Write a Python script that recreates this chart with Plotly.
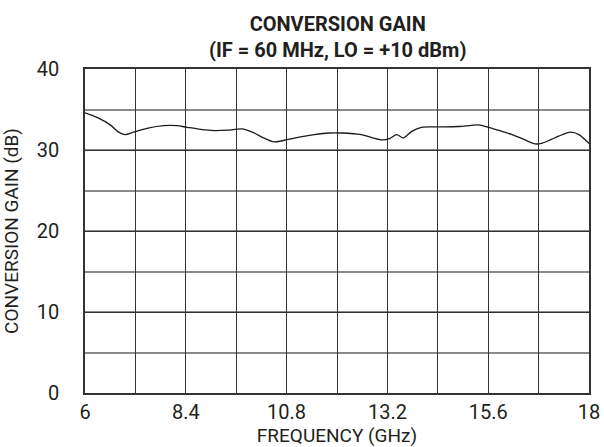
import plotly.graph_objects as go

freq_ghz = [6.0, 6.3, 6.6, 6.8, 6.95, 7.16, 7.5, 7.87, 8.19, 8.43, 8.75, 9.07, 9.4, 9.75,
            10.03, 10.25, 10.5, 10.83, 11.1, 11.46, 11.8, 12.1, 12.58, 12.85, 13.06, 13.25,
            13.42, 13.58, 13.78, 14.01, 14.41, 14.89, 15.2, 15.37, 15.61, 15.9, 16.17, 16.45,
            16.72, 16.89, 17.1, 17.28, 17.56, 17.76, 18.0]
gain_db = [34.6, 34.0, 33.1, 32.2, 31.9, 32.2, 32.7, 33.0, 33.0, 32.8, 32.55, 32.4, 32.45, 32.6,
           32.1, 31.5, 31.0, 31.3, 31.6, 31.9, 32.1, 32.1, 31.9, 31.5, 31.25, 31.4,
           31.9, 31.5, 32.3, 32.8, 32.85, 32.9, 33.05, 33.1, 32.8, 32.35, 31.9, 31.3,
           30.75, 30.85, 31.3, 31.7, 32.2, 31.9, 30.8]

x_grid = [6.0, 7.2, 8.4, 9.6, 10.8, 12.0, 13.2, 14.4, 15.6, 16.8, 18.0]
x_labels = ["6", "", "8.4", "", "10.8", "", "13.2", "", "15.6", "", "18"]
y_major = [0, 10, 20, 30, 40]
y_labels = ["0", "10", "20", "30", "40"]

FONT = "Roboto, Liberation Sans, sans-serif"

fig = go.Figure()
fig.add_trace(go.Scatter(
    x=freq_ghz, y=gain_db, mode="lines",
    line=dict(color="#1a1a1a", width=1.3, shape="spline", smoothing=0.8),
    showlegend=False, hoverinfo="skip",
))

fig.update_layout(
    width=604, height=447,
    margin=dict(l=85, r=15, t=69, b=54),
    paper_bgcolor="white", plot_bgcolor="white",
    font=dict(family=FONT, color="#231f20", size=20),
    xaxis=dict(
        range=[6, 18], tickmode="array", tickvals=x_grid, ticktext=x_labels,
        showgrid=True, gridcolor="#333333", gridwidth=1.3,
        showline=True, linecolor="#333333", linewidth=1.5, mirror=True,
        ticks="", zeroline=False, tickfont=dict(size=20), automargin=False,
        title=dict(text="FREQUENCY (GHz)", font=dict(size=19), standoff=0),
    ),
    yaxis=dict(
        range=[0, 40], tickmode="array", tickvals=y_major, ticktext=y_labels,
        showgrid=True, gridcolor="#333333", gridwidth=1.3,
        minor=dict(dtick=5, tick0=0, showgrid=True, gridcolor="#8a8a8a", gridwidth=2),
        showline=True, linecolor="#333333", linewidth=1.5, mirror=True,
        ticks="", zeroline=False, tickfont=dict(size=20), ticklabelstandoff=20,
        automargin=False,
        title=dict(text="CONVERSION GAIN (dB)", font=dict(size=19), standoff=20),
    ),
    annotations=[dict(
        text="<b>CONVERSION GAIN</b><br><b>(IF = 60 MHz, LO = +10 dBm)</b>",
        x=0.5, xref="paper", y=1.0, yref="paper", yanchor="bottom",
        xanchor="center", showarrow=False, yshift=5,
        font=dict(size=20, family=FONT, color="#231f20"),
    )],
)

fig.write_html("out.html", config={"displayModeBar": False},
               post_script="document.body.style.margin='0';document.body.style.padding='0';")
